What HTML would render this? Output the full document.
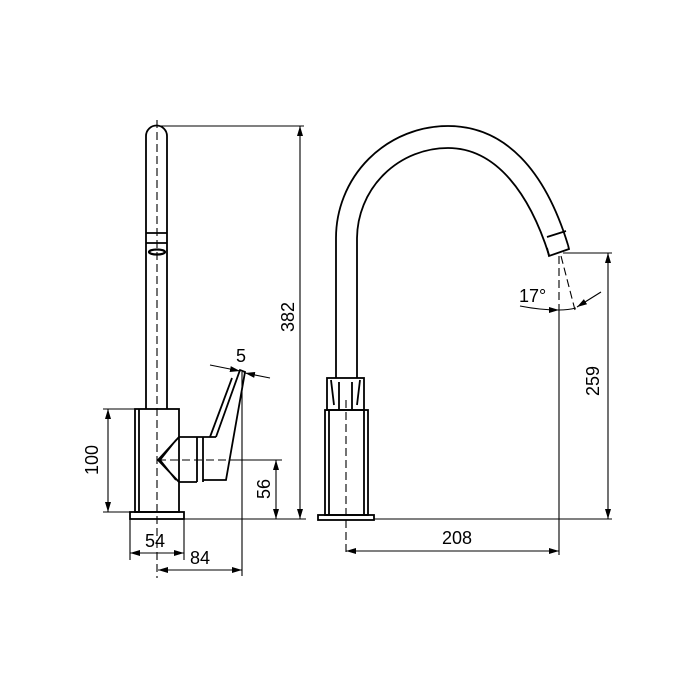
<!DOCTYPE html>
<html><head><style>body{margin:0;background:#fff}svg{display:block}</style></head><body>
<svg width="700" height="700" viewBox="0 0 700 700" xmlns="http://www.w3.org/2000/svg" font-family="Liberation Sans, DejaVu Sans, sans-serif">
<defs><marker id="a" viewBox="0 0 10 6" refX="10" refY="3" markerWidth="10" markerHeight="6" orient="auto-start-reverse" markerUnits="userSpaceOnUse"><path d="M0,0L10,3L0,6z" fill="#000"/></marker></defs>
<g fill="none" stroke="#000" stroke-width="1.8">
<path d="M146,409V136A10.5,10.5 0 0 1 167,136V409"/>
<path d="M146,233H167M146,243H167"/>
<ellipse cx="157" cy="252" rx="8" ry="2.5" stroke-width="2.2"/>
<rect x="135" y="409" width="44" height="103"/>
<path d="M139,409V512"/>
<rect x="130" y="512" width="54" height="7"/>
<path d="M179,437L158,460L179,482M176,440L160,460L176,480"/>
<path d="M179,437H216M179,482H197"/>
<path d="M197,437V482M203,437V482"/>
<path d="M216,437L240,370L245,372L226,480H203"/>
<path d="M210,437L232,378"/>
</g>
<g stroke="#000" stroke-width="1.1" fill="none">
<path d="M157,120V578" stroke-dasharray="8,4"/>
<path d="M158,460H232" stroke-dasharray="8,4"/>
<path d="M232,460H282"/>
<path d="M157,126H304M184,519H306"/>
<path d="M300,126V519" marker-start="url(#a)" marker-end="url(#a)"/>
<path d="M276,460V519" marker-start="url(#a)" marker-end="url(#a)"/>
<path d="M103,409H135M103,512H130"/>
<path d="M108,409V512" marker-start="url(#a)" marker-end="url(#a)"/>
<path d="M130,519V560M184,519V560M242,372V576"/>
<path d="M130,553H184" marker-start="url(#a)" marker-end="url(#a)"/>
<path d="M158,570H242" marker-start="url(#a)" marker-end="url(#a)"/>
<path d="M210,365L240,371" marker-end="url(#a)"/>
<path d="M270,378L245,373" marker-end="url(#a)"/>
</g>
<g font-size="18" fill="#000">
<text transform="translate(294,317) rotate(-90)" text-anchor="middle">382</text>
<text transform="translate(270,489) rotate(-90)" text-anchor="middle">56</text>
<text transform="translate(98,460) rotate(-90)" text-anchor="middle">100</text>
<text x="155" y="547" text-anchor="middle">54</text>
<text x="200" y="564" text-anchor="middle">84</text>
<text x="241" y="362" text-anchor="middle">5</text>
<text x="457" y="544" text-anchor="middle">208</text>
<text transform="translate(599,381) rotate(-90)" text-anchor="middle">259</text>
<text x="519" y="302">17°</text>
</g>
<g fill="none" stroke="#000" stroke-width="1.8">
<path d="M336,378V238A112,112 0 0 1 448,126C505,126 545,170 568,245"/>
<path d="M357,378V238A91,91 0 0 1 448,148C497,148 530,195 549,255"/>
<path d="M547,237L566,231M568,245L569,249L549,256L547,248"/>
<rect x="327" y="378" width="37" height="32"/>
<path d="M331,380L334,405M360,380L357,405M339,382V410M352,382V410"/>
<rect x="325" y="410" width="43" height="105"/>
<path d="M329,410V515M364,410V515"/>
<rect x="318" y="515" width="56" height="5"/>
</g>
<g stroke="#000" stroke-width="1.1" fill="none">
<path d="M346,400V555" stroke-dasharray="8,4"/>
<path d="M559,256V310" stroke-dasharray="8,4"/>
<path d="M561,256L575,310" stroke-dasharray="8,4"/>
<path d="M559,310V555"/>
<path d="M346,551H559" marker-start="url(#a)" marker-end="url(#a)"/>
<path d="M563,253H612M374,519H612"/>
<path d="M608,253V519" marker-start="url(#a)" marker-end="url(#a)"/>
<path d="M520,306Q540,310 559,310" marker-end="url(#a)"/>
<path d="M559,310Q568,310 576,308"/>
<path d="M601,292L577,307" marker-end="url(#a)"/>
</g>
</svg>
</body></html>
